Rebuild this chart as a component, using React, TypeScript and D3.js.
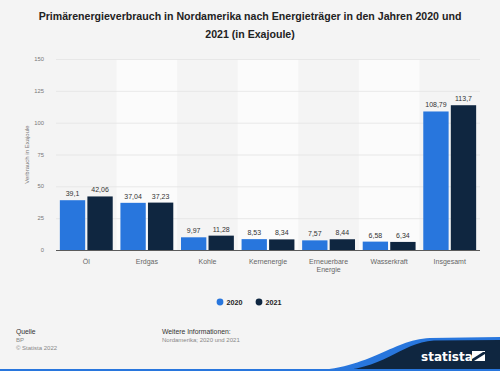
import { useEffect, useRef } from "react"
import * as d3 from "d3"

const categories = ["Öl", "Erdgas", "Kohle", "Kernenergie", "Erneuerbare Energie", "Wasserkraft", "Insgesamt"]
const values2020 = [39.1, 37.04, 9.97, 8.53, 7.57, 6.58, 108.79]
const values2021 = [42.06, 37.23, 11.28, 8.34, 8.44, 6.34, 113.7]
const seriesNames = ["2020", "2021"]
const yTicks = [0, 25, 50, 75, 100, 125, 150]

const colors = ["#2876dd", "#0f2640"]
const fmt = (v: number) => String(v).replace(".", ",")

const App = () => {
  const svgRef = useRef<SVGSVGElement | null>(null)

  useEffect(() => {
    if (!svgRef.current) return
    document.body.style.margin = "0"
    const svg = d3.select(svgRef.current)
    svg.selectAll("*").remove()

    const width = 500
    const height = 371
    const font = "'Liberation Sans', Arial, sans-serif"

    svg.append("rect").attr("width", width).attr("height", height).attr("fill", "#f4f4f4")

    // Title
    const title = svg.append("text").attr("text-anchor", "middle").attr("font-family", font)
      .attr("font-weight", "bold").attr("font-size", 10.6).attr("fill", "#222")
    title.append("tspan").attr("x", 250).attr("y", 20).text("Primärenergieverbrauch in Nordamerika nach Energieträger in den Jahren 2020 und")
    title.append("tspan").attr("x", 250).attr("y", 37.5).text("2021 (in Exajoule)")

    const x = d3.scaleBand().domain(categories).range([56, 480])
    const x1 = d3.scaleBand().domain(seriesNames).range([0, x.bandwidth()]).paddingInner(0.08).paddingOuter(0.14)
    const y = d3.scaleLinear().domain([0, 150]).range([250, 59])

    // alternating bands
    svg.append("g").selectAll("rect")
      .data(categories.filter((_, i) => i % 2 === 1))
      .join("rect")
      .attr("x", (d) => x(d)!)
      .attr("y", y(150))
      .attr("width", x.bandwidth())
      .attr("height", y(0) - y(150))
      .attr("fill", "#fbfbfb")

    // grid
    svg.append("g").selectAll("line")
      .data(yTicks.filter((t) => t > 0))
      .join("line")
      .attr("x1", 56).attr("x2", 480)
      .attr("y1", (d) => y(d) + 0.5).attr("y2", (d) => y(d) + 0.5)
      .attr("stroke", "#e3e3e3").attr("stroke-width", 0.8)

    // y ticks
    svg.append("g").selectAll("text")
      .data(yTicks)
      .join("text")
      .attr("x", 44).attr("y", (d) => y(d) + 2)
      .attr("text-anchor", "end").attr("font-family", font).attr("font-size", 5.8).attr("fill", "#777")
      .text((d) => fmt(d))

    svg.append("text")
      .attr("transform", `translate(29,${y(75)}) rotate(-90)`)
      .attr("text-anchor", "middle").attr("font-family", font).attr("font-size", 6).attr("fill", "#777")
      .text("Verbrauch in Exajoule")

    // bars
    const series = [values2020, values2021]
    categories.forEach((c, i) => {
      series.forEach((vals, s) => {
        const bx = x(c)! + x1(seriesNames[s])!
        svg.append("rect")
          .attr("x", bx).attr("y", y(vals[i]))
          .attr("width", x1.bandwidth()).attr("height", y(0) - y(vals[i]))
          .attr("fill", colors[s])
        svg.append("text")
          .attr("x", bx + x1.bandwidth() / 2).attr("y", y(vals[i]) - 4)
          .attr("text-anchor", "middle").attr("font-family", font).attr("font-size", 7).attr("fill", "#333")
          .text(fmt(vals[i]))
      })
    })

    // axis line
    svg.append("line").attr("x1", 56).attr("x2", 480).attr("y1", y(0) + 0.5).attr("y2", y(0) + 0.5)
      .attr("stroke", "#333").attr("stroke-width", 0.8)

    // category labels
    categories.forEach((c) => {
      const t = svg.append("text").attr("text-anchor", "middle").attr("font-family", font)
        .attr("font-size", 7).attr("fill", "#666")
      const cx = x(c)! + x.bandwidth() / 2
      c.split(" ").forEach((w, k) => {
        t.append("tspan").attr("x", cx).attr("y", 263.5 + k * 8).text(w)
      })
    })

    // legend
    const legend = svg.append("g")
    const legendX = [220, 259]
    seriesNames.forEach((n, s) => {
      legend.append("circle").attr("cx", legendX[s]).attr("cy", 302).attr("r", 3.4).attr("fill", colors[s])
      legend.append("text").attr("x", legendX[s] + 6.5).attr("y", 304.7).attr("font-family", font)
        .attr("font-size", 7.2).attr("font-weight", "bold").attr("fill", "#222").text(n)
    })

    // footer
    const foot = svg.append("g").attr("font-family", font)
    foot.append("text").attr("x", 16).attr("y", 334).attr("font-size", 6.8).attr("fill", "#333").text("Quelle")
    foot.append("text").attr("x", 16).attr("y", 342).attr("font-size", 6).attr("fill", "#888").text("BP")
    foot.append("text").attr("x", 16).attr("y", 350).attr("font-size", 6).attr("fill", "#888").text("© Statista 2022")
    foot.append("text").attr("x", 162).attr("y", 334).attr("font-size", 6.8).attr("fill", "#333").text("Weitere Informationen:")
    foot.append("text").attr("x", 162).attr("y", 342).attr("font-size", 6).attr("fill", "#888").text("Nordamerika; 2020 und 2021")

    // logo wave
    svg.append("path")
      .attr("d", "M300,371 C370,371 390,340 430,338 L500,337 L500,371 Z")
      .attr("fill", "#2876dd")
    svg.append("path")
      .attr("d", "M330,371 C384,371 399,343 434,340.5 L500,340 L500,371 Z")
      .attr("fill", "#0f2640")
    svg.append("rect").attr("x", 0).attr("y", 369).attr("width", 500).attr("height", 2).attr("fill", "#2876dd")
    svg.append("text").attr("x", 421).attr("y", 361).attr("font-family", "'DejaVu Sans', sans-serif")
      .attr("font-weight", "bold").attr("font-size", 12).attr("fill", "#fff").text("statista")
    svg.append("path")
      .attr("d", "M472,351 L485,351 L485,361 L472,361 Z")
      .attr("fill", "#fff")
    svg.append("path")
      .attr("d", "M472,359 L483,352 L485,352 L485,354 L474,361 L472,361 Z")
      .attr("fill", "#0f2640")
  }, [])

  return (
    <div style={{ width: 500, height: 371 }}>
      <svg ref={svgRef} width={500} height={371} style={{ display: "block" }} />
    </div>
  )
}

export default App
